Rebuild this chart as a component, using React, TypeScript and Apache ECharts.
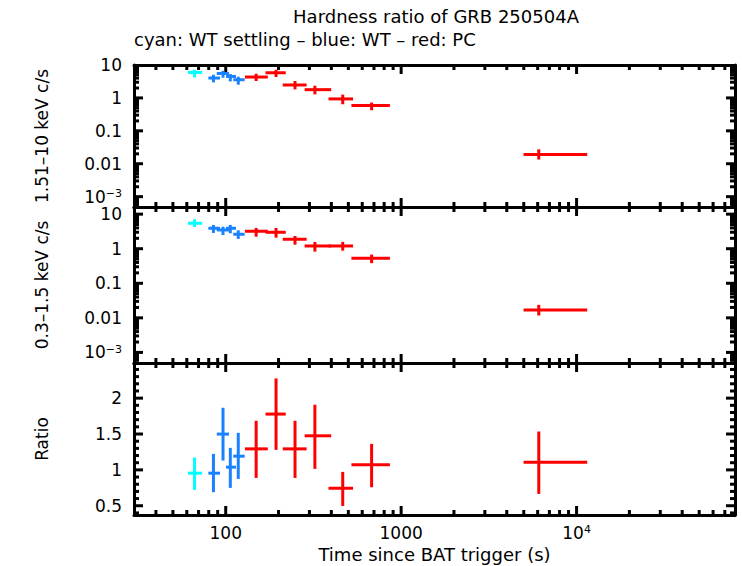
import React, { useEffect, useRef } from "react";
import * as echarts from "echarts";

// Values. Time in s since BAT trigger.
// mode: 0 = WT settling, 1 = WT, 2 = PC
const mode = [0, 1, 1, 1, 1, 2, 2, 2, 2, 2, 2, 2];
const time = [66.4, 85.1, 96.5, 106.2, 117.9, 149.1, 193.6, 248.3, 322.3, 464.5, 678.5, 6088];
const timeLo = [60.9, 79.6, 88.9, 100.4, 110.4, 128.7, 168.6, 211.3, 281.7, 385.3, 520.6, 4986];
const timeHi = [73.4, 92.8, 104.4, 114.4, 128.2, 173.7, 219.8, 289.1, 399.2, 532.1, 862.8, 11500];

// 1.51-10 keV count rate (c/s)
const hard = [5.94, 4.02, 5.53, 4.49, 3.57, 4.31, 5.81, 2.47, 1.78, 0.933, 0.585, 0.019];
const hardLo = [4.19, 2.96, 4.1, 3.17, 2.52, 3.26, 4.31, 1.82, 1.28, 0.641, 0.422, 0.0134];
const hardHi = [7.16, 5.06, 6.68, 5.31, 4.4, 5.42, 7.16, 3.26, 2.35, 1.26, 0.721, 0.0274];

// 0.3-1.5 keV count rate (c/s)
const soft = [5.45, 3.91, 3.49, 3.91, 2.62, 3.2, 2.99, 1.88, 1.2, 1.2, 0.532, 0.01675];
const softLo = [4.26, 2.86, 2.5, 2.8, 1.92, 2.24, 2.09, 1.31, 0.824, 0.88, 0.381, 0.0117];
const softHi = [7.11, 4.87, 4.35, 4.87, 3.42, 3.99, 3.99, 2.34, 1.57, 1.57, 0.676, 0.0238];

// hardness ratio
const ratio = [0.954, 0.954, 1.499, 1.038, 1.191, 1.293, 1.778, 1.293, 1.475, 0.744, 1.07, 1.108];
const ratioLo = [0.721, 0.689, 1.13, 0.749, 0.874, 0.888, 1.279, 0.888, 1.014, 0.497, 0.758, 0.665];
const ratioHi = [1.172, 1.223, 1.866, 1.307, 1.517, 1.684, 2.275, 1.684, 1.908, 0.972, 1.363, 1.535];

// axis extents and ticks
const timeRange = [30, 80000];
const hardRange = [4.85e-4, 10];
const softRange = [4.94e-4, 16.1];
const ratioRange = [0.371, 2.49];
const timeMajor = [100, 1000, 10000];
const rateMajor = [0.001, 0.01, 0.1, 1, 10];
const ratioMajor = [0.5, 1, 1.5, 2];

const modeColors = ["#00ffff", "#1a82ff", "#ff0000"];
const FONT = "DejaVu Sans";

// 2..9 x 10^k inside a range
const logMinors = (lo: number, hi: number) => {
  const out: number[] = [];
  for (let k = -5; k <= 5; k++) {
    for (let m = 2; m <= 9; m++) {
      const v = m * Math.pow(10, k);
      if (v > lo && v < hi) out.push(v);
    }
  }
  return out;
};

const linMinors = (lo: number, hi: number, step: number, major: number) => {
  const out: number[] = [];
  for (let i = Math.ceil(lo / step); i * step < hi; i++) {
    const v = +(i * step).toFixed(6);
    if (Math.abs(v / major - Math.round(v / major)) > 1e-6) out.push(v);
  }
  return out;
};

const logLabel = (v: number) => {
  const e = Math.log10(v);
  const r = Math.round(e);
  if (Math.abs(e - r) > 0.01) return "";
  if (r >= 4 || r <= -3) return `10{sup|${r < 0 ? "\u2212" + -r : r}}`;
  return r >= 0 ? String(Math.pow(10, r)) : Math.pow(10, r).toFixed(-r);
};

const ratioLabel = (v: number) => {
  const hit = ratioMajor.some((m) => Math.abs(m - v) < 1e-6);
  return hit ? String(v) : "";
};

const App: React.FC = () => {
  const chartRef = useRef<HTMLDivElement>(null);

  useEffect(() => {
    document.body.style.margin = "0";
    if (!chartRef.current) return;
    const chart = echarts.init(chartRef.current, undefined, { renderer: "svg" });

    const grids = [
      { left: 134, right: 7, top: 65, height: 142 },
      { left: 134, right: 7, top: 207, height: 156 },
      { left: 134, right: 7, top: 363, height: 152 },
    ];
    const yRanges = [hardRange, softRange, ratioRange];
    const yNames = ["1.51\u201310 keV c/s", "0.3\u20131.5 keV c/s", "Ratio"];
    const yVals = [
      [hard, hardLo, hardHi],
      [soft, softLo, softHi],
      [ratio, ratioLo, ratioHi],
    ];

    const line = { show: true, onZero: false, lineStyle: { color: "#000", width: 3 } };
    const labelStyle = {
      color: "#000",
      fontSize: 17,
      fontFamily: FONT,
      rich: { sup: { fontSize: 11, fontFamily: FONT, color: "#000", verticalAlign: "top" } },
    };

    const xAxis: any[] = [];
    const yAxis: any[] = [];
    grids.forEach((_, gi) => {
      const last = gi === 2;
      ["bottom", "top"].forEach((pos) => {
        xAxis.push({
          gridIndex: gi,
          type: "log",
          position: pos,
          min: timeRange[0],
          max: timeRange[1],
          axisLine: line,
          axisTick: { show: false },
          splitLine: { show: false },
          axisLabel: {
            ...labelStyle,
            show: last && pos === "bottom",
            margin: 9,
            formatter: logLabel,
          },
          name: last && pos === "bottom" ? "Time since BAT trigger (s)" : "",
          nameLocation: "middle",
          nameGap: 30,
          nameTextStyle: { color: "#000", fontSize: 18, fontFamily: FONT },
        });
      });
      ["left", "right"].forEach((pos) => {
        yAxis.push({
          gridIndex: gi,
          type: gi < 2 ? "log" : "value",
          position: pos,
          min: yRanges[gi][0],
          max: yRanges[gi][1],
          axisLine: line,
          axisTick: { show: false },
          splitLine: { show: false },
          axisLabel: {
            ...labelStyle,
            show: pos === "left",
            margin: 12,
            formatter: gi < 2 ? logLabel : ratioLabel,
          },
          name: pos === "left" ? yNames[gi] : "",
          nameLocation: "middle",
          nameGap: 84,
          nameTextStyle: { color: "#000", fontSize: 17, fontFamily: FONT },
        });
      });
    });

    const tickSeries = (gi: number) => {
      const yr = yRanges[gi];
      const yMajor = gi < 2 ? rateMajor : ratioMajor;
      const yMinor = gi < 2 ? logMinors(yr[0], yr[1]) : linMinors(yr[0], yr[1], 0.1, 0.5);
      const xMinor = logMinors(timeRange[0], timeRange[1]);
      const yRef = yr[1];
      const xRef = timeRange[1];
      const data = [
        ...timeMajor.map((v) => [v, yRef, 0]),
        ...xMinor.map((v) => [v, yRef, 1]),
        ...yMajor.filter((v) => v > yr[0] && v < yr[1]).map((v) => [xRef, v, 2]),
        ...yMinor.map((v) => [xRef, v, 3]),
      ];
      return {
        type: "custom",
        xAxisIndex: gi * 2,
        yAxisIndex: gi * 2,
        silent: true,
        z: 5,
        encode: { x: 0, y: 1 },
        data,
        renderItem: (params: any, api: any) => {
          const cs = params.coordSys;
          const kind = api.value(2);
          const p = api.coord([api.value(0), api.value(1)]);
          const len = kind % 2 === 0 ? 9 : 5;
          const style = { stroke: "#000", lineWidth: 3 };
          if (kind < 2) {
            return {
              type: "group",
              children: [
                { type: "line", shape: { x1: p[0], y1: cs.y, x2: p[0], y2: cs.y + len }, style },
                {
                  type: "line",
                  shape: { x1: p[0], y1: cs.y + cs.height, x2: p[0], y2: cs.y + cs.height - len },
                  style,
                },
              ],
            };
          }
          return {
            type: "group",
            children: [
              { type: "line", shape: { x1: cs.x, y1: p[1], x2: cs.x + len, y2: p[1] }, style },
              {
                type: "line",
                shape: { x1: cs.x + cs.width, y1: p[1], x2: cs.x + cs.width - len, y2: p[1] },
                style,
              },
            ],
          };
        },
      };
    };

    const crossSeries = (gi: number) => {
      const [v, lo, hi] = yVals[gi];
      return {
        type: "custom",
        xAxisIndex: gi * 2,
        yAxisIndex: gi * 2,
        z: 10,
        encode: { x: 0, y: 3 },
        data: time.map((t, i) => [t, timeLo[i], timeHi[i], v[i], lo[i], hi[i], mode[i]]),
        renderItem: (_params: any, api: any) => {
          const t = api.value(0);
          const y = api.value(3);
          const a = api.coord([api.value(1), y]);
          const b = api.coord([api.value(2), y]);
          const c = api.coord([t, api.value(4)]);
          const d = api.coord([t, api.value(5)]);
          const style = { stroke: modeColors[api.value(6)], lineWidth: 3 };
          return {
            type: "group",
            children: [
              { type: "line", shape: { x1: a[0], y1: a[1], x2: b[0], y2: b[1] }, style },
              { type: "line", shape: { x1: c[0], y1: c[1], x2: d[0], y2: d[1] }, style },
            ],
          };
        },
      };
    };

    const option = {
      animation: false,
      backgroundColor: "#fff",
      title: [
        {
          text: "Hardness ratio of GRB 250504A",
          left: 436,
          top: 7,
          padding: 0,
          textAlign: "center",
          textStyle: { color: "#000", fontSize: 18, fontWeight: "normal", fontFamily: FONT },
        },
        {
          text: "cyan: WT settling \u2013 blue: WT \u2013 red: PC",
          left: 134,
          top: 30,
          padding: 0,
          textStyle: { color: "#000", fontSize: 18, fontWeight: "normal", fontFamily: FONT },
        },
      ],
      grid: grids,
      xAxis,
      yAxis,
      series: [0, 1, 2].flatMap((gi) => [tickSeries(gi), crossSeries(gi)]),
    };

    chart.setOption(option as any);
    return () => {
      chart.dispose();
    };
  }, []);

  return <div ref={chartRef} style={{ width: "742px", height: "566px" }} />;
};

export default App;
